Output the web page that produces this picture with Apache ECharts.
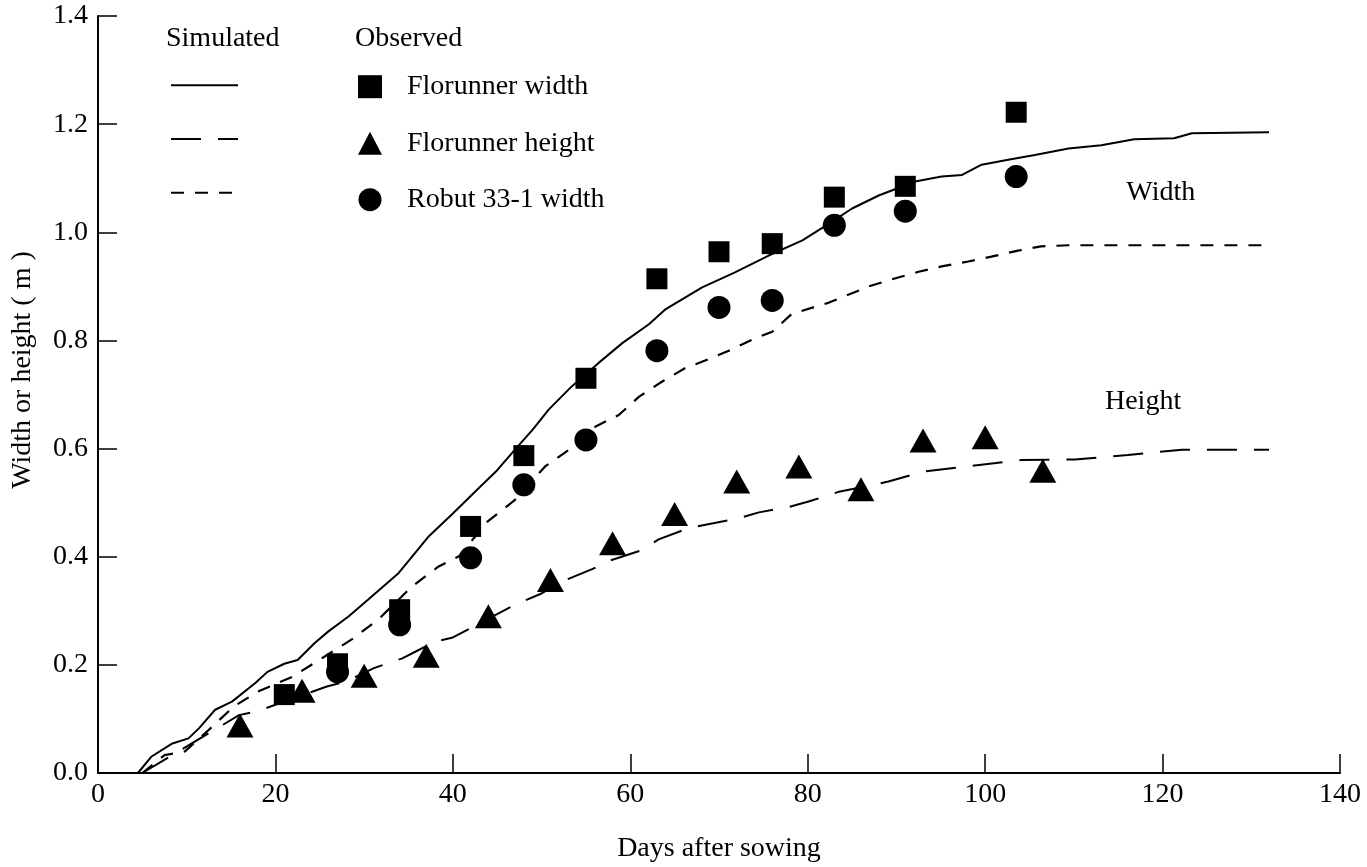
<!DOCTYPE html>
<html>
<head>
<meta charset="utf-8">
<script src="https://cdn.jsdelivr.net/npm/echarts@6/dist/echarts.min.js"></script>
<style>
html,body{margin:0;padding:0;background:#fff}
#c{width:1367px;height:867px}
</style>
</head>
<body>
<div id="c"></div>
<script>
// ---------- data ----------
const xTickLabels = ['0','20','40','60','80','100','120','140'];
const yTickLabels = ['0.0','0.2','0.4','0.6','0.8','1.0','1.2','1.4'];

// Simulated Florunner width (solid line)
const simFwDays = [4.5, 6, 8.3, 10.2, 11.4, 13.2, 15.1, 17.7, 19.1, 21, 22.5, 24.4, 25.9, 28.2, 30.4, 33.9, 37.3, 40, 42.5, 45, 47, 49, 50.8, 53.4, 56.4, 59.1, 62.1, 64, 68.1, 71.8, 75.6, 79.4, 82.4, 85, 88, 92.1, 95.1, 97.4, 99.6, 102.6, 105.6, 109.4, 113.1, 116.8, 121.3, 123.3, 132];
const simFwVals = [0, 0.03, 0.054, 0.064, 0.083, 0.117, 0.132, 0.166, 0.187, 0.202, 0.209, 0.24, 0.261, 0.289, 0.32, 0.37, 0.438, 0.48, 0.52, 0.56, 0.598, 0.635, 0.672, 0.715, 0.758, 0.795, 0.83, 0.858, 0.898, 0.926, 0.957, 0.985, 1.016, 1.044, 1.068, 1.094, 1.103, 1.106, 1.125, 1.134, 1.143, 1.155, 1.161, 1.172, 1.174, 1.183, 1.185];

// Simulated Florunner height (long dashes)
const simFhDays = [5, 15.9, 17.9, 25.8, 27.9, 31.1, 34.3, 38, 39.9, 47, 50, 52.3, 55.7, 57.9, 61.1, 63.2, 66.6, 72.2, 74.5, 77.9, 80.1, 83.5, 86.9, 89.1, 92.9, 98.5, 104.1, 110.1, 116.1, 122.2, 132];
const simFhVals = [0, 0.107, 0.114, 0.16, 0.169, 0.194, 0.212, 0.243, 0.25, 0.311, 0.332, 0.354, 0.377, 0.394, 0.411, 0.432, 0.453, 0.471, 0.482, 0.492, 0.502, 0.52, 0.531, 0.539, 0.557, 0.568, 0.579, 0.58, 0.588, 0.598, 0.598];

// Simulated Robut 33-1 width (short dashes)
const simRwDays = [5, 7.5, 9.8, 12.5, 15.3, 18.1, 21.9, 25.6, 28.6, 31.6, 35.4, 38.4, 40.7, 43.9, 47, 50.4, 53.1, 56.1, 58.7, 61, 63.6, 66.2, 68.8, 71.1, 74.1, 76, 78.2, 82.4, 86.9, 89.9, 92.5, 95.1, 98.1, 100.7, 103.7, 106.3, 109.4, 132];
const simRwVals = [0, 0.033, 0.04, 0.08, 0.123, 0.151, 0.178, 0.216, 0.247, 0.284, 0.345, 0.382, 0.401, 0.465, 0.505, 0.567, 0.598, 0.641, 0.662, 0.696, 0.724, 0.749, 0.765, 0.781, 0.804, 0.816, 0.849, 0.87, 0.9, 0.915, 0.927, 0.937, 0.946, 0.955, 0.966, 0.974, 0.976, 0.976];

// Observed
const obsFwDays = [21, 27, 34, 42, 48, 55, 63, 70, 76, 83, 91, 103.5];
const obsFwVals = [0.145, 0.202, 0.302, 0.456, 0.587, 0.73, 0.914, 0.964, 0.979, 1.065, 1.085, 1.222];

const obsFhDays = [16, 23, 30, 37, 44, 51, 58, 65, 72, 79, 86, 93, 100, 106.5];
const obsFhVals = [0.088, 0.152, 0.18, 0.217, 0.29, 0.357, 0.425, 0.479, 0.539, 0.567, 0.525, 0.615, 0.621, 0.559];

const obsRwDays = [27, 34, 42, 48, 55, 63, 70, 76, 83, 91, 103.5];
const obsRwVals = [0.187, 0.274, 0.398, 0.533, 0.616, 0.781, 0.861, 0.874, 1.013, 1.039, 1.103];

// Curve labels
const curveLabels = ['Width', 'Height'];
const curveLabelDays = [119.8, 117.8];
const curveLabelVals = [1.073, 0.686];

// Texts
const legendSimNames = ['Simulated Florunner width', 'Simulated Florunner height', 'Simulated Robut 33-1 width'];
const legendObsNames = ['Florunner width', 'Florunner height', 'Robut 33-1 width'];

// ---------- chart ----------
const FONT = '"Liberation Serif","Times New Roman",serif';
const zip = (xs, ys) => xs.map((x, i) => [x, ys[i]]);
const chart = echarts.init(document.getElementById('c'), null, {renderer: 'canvas'});

const axisCommon = {
  type: 'value',
  axisLine: {show: true, lineStyle: {color: '#000', width: 2}},
  axisTick: {show: true, inside: true, length: 19, lineStyle: {color: '#000', width: 1.5}},
  splitLine: {show: false},
  axisLabel: {color: '#000', fontFamily: FONT, fontSize: 28}
};

const option = {
  backgroundColor: '#fff',
  animation: false,
  grid: {left: 98, right: 27, top: 16, bottom: 94, outerBoundsMode: 'none'},
  xAxis: Object.assign({}, axisCommon, {
    min: 0, max: 140, interval: 20,
    axisLabel: Object.assign({}, axisCommon.axisLabel, {margin: 8,
      formatter: (v, i) => xTickLabels[i]}),
    name: 'Days after sowing', nameLocation: 'middle', nameGap: 62,
    nameTextStyle: {color: '#000', fontFamily: FONT, fontSize: 28}
  }),
  yAxis: Object.assign({}, axisCommon, {
    min: 0, max: 1.4, interval: 0.2,
    axisLabel: Object.assign({}, axisCommon.axisLabel, {margin: 10,
      formatter: (v, i) => yTickLabels[i]})
  }),
  legend: [
    {
      data: legendSimNames, orient: 'vertical', left: 170, top: 79.7, padding: 0,
      itemWidth: 67, itemHeight: 14, itemGap: 42.5,
      itemStyle: {opacity: 0},
      formatter: () => '', textStyle: {fontSize: 14, lineHeight: 14},
      selectedMode: false
    },
    {
      data: legendObsNames, orient: 'vertical', left: 358, top: 72.7, padding: 0,
      itemWidth: 24, itemHeight: 23, itemGap: 28.5,
      textStyle: {color: '#000', fontFamily: FONT, fontSize: 28, lineHeight: 28, padding: [0, 0, 0, 20]},
      selectedMode: false
    }
  ],
  graphic: [
    {type: 'text', left: 166, top: 25, style: {text: 'Simulated', fill: '#000', font: '28px ' + FONT}},
    {type: 'text', left: 355, top: 25, style: {text: 'Observed', fill: '#000', font: '28px ' + FONT}},
    {type: 'text', x: 23, y: 370, rotation: Math.PI / 2,
     style: {text: 'Width or height ( m )', fill: '#000', font: '28px ' + FONT, align: 'center', verticalAlign: 'middle'}}
  ],
  series: [
    {name: legendSimNames[0], type: 'line', data: zip(simFwDays, simFwVals), symbol: 'none',
     lineStyle: {color: '#000', width: 2, type: 'solid'}, itemStyle: {color: '#000'}, z: 2},
    {name: legendSimNames[1], type: 'line', data: zip(simFhDays, simFhVals), symbol: 'none',
     lineStyle: {color: '#000', width: 2, type: [30, 17]}, itemStyle: {color: '#000'}, z: 2},
    {name: legendSimNames[2], type: 'line', data: zip(simRwDays, simRwVals), symbol: 'none',
     lineStyle: {color: '#000', width: 2.2, type: [13, 11]}, itemStyle: {color: '#000'}, z: 2},
    {name: legendObsNames[0], type: 'scatter', data: zip(obsFwDays, obsFwVals), symbol: 'rect',
     symbolSize: 21, itemStyle: {color: '#000', opacity: 1}, z: 3},
    {name: legendObsNames[1], type: 'scatter', data: zip(obsFhDays, obsFhVals), symbol: 'triangle',
     symbolSize: [27, 24], itemStyle: {color: '#000', opacity: 1}, z: 3},
    {name: legendObsNames[2], type: 'scatter', data: zip(obsRwDays, obsRwVals), symbol: 'circle',
     symbolSize: 23, itemStyle: {color: '#000', opacity: 1}, z: 3},
    {name: 'curve labels', type: 'scatter', symbolSize: 1, itemStyle: {color: 'rgba(0,0,0,0)'},
     data: curveLabels.map((t, i) => ({value: [curveLabelDays[i], curveLabelVals[i]], name: t})),
     label: {show: true, position: 'inside', formatter: p => p.name, color: '#000',
             fontFamily: FONT, fontSize: 28, opacity: 1}, silent: true, z: 4}
  ]
};
chart.setOption(option);
</script>
</body>
</html>
